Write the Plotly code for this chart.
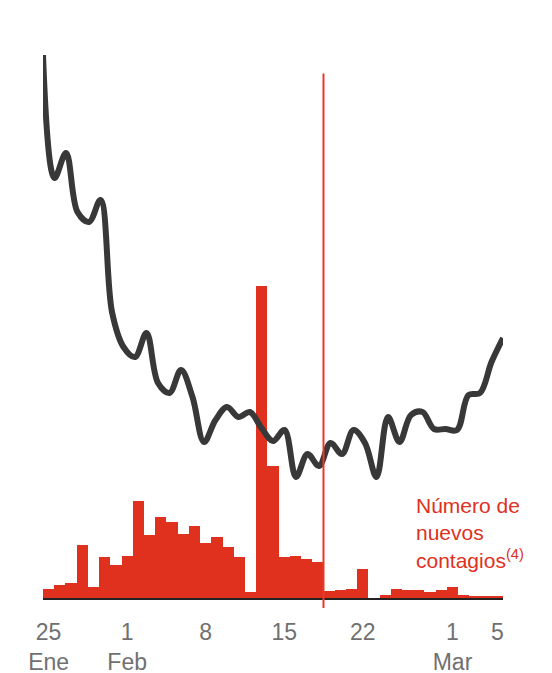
import plotly.graph_objects as go
import pandas as pd

# Daily new infections (bars), one per day from 25 Jan to 5 Mar 2020
dates = pd.date_range("2020-01-25", "2020-03-05", freq="D")
new_cases = [432, 624, 720, 2544, 528, 1968, 1584, 2016, 4656, 3024, 3888, 3648,
             3072, 3456, 2640, 2928, 2448, 1968, 288, 14976, 6336, 1968, 2016,
             1872, 1728, 336, 384, 432, 1392, 0, 144, 432, 384, 384, 288, 384,
             528, 144, 96, 96, 96]

# Black smoothed index line (arbitrary units), one point per day
line_index = list(range(41))
line_values = [543, 420, 445, 386, 376, 398, 286, 251, 241, 265, 215, 205, 228,
               201, 156, 178, 191, 181, 186, 170, 157, 168, 121, 144, 132, 155,
               144, 168, 155, 121, 181, 156, 183, 186, 169, 169, 168, 203, 205,
               236, 260]

tick_dates = ["2020-01-25", "2020-02-01", "2020-02-08", "2020-02-15",
              "2020-02-22", "2020-03-01", "2020-03-05"]
tick_labels = ["25<br>Ene", "1<br>Feb", "8", "15", "22", "1<br>Mar", "5"]

marker_date = "2020-02-18 12:00"
label_text = "Número de<br>nuevos<br>contagios<sup>(4)</sup>"

RED = "#E0301E"
FONT = "Liberation Sans, Arial, sans-serif"

fig = go.Figure()
fig.add_trace(go.Bar(x=dates, y=new_cases, marker=dict(color=RED, line=dict(width=0)),
                     xaxis="x", yaxis="y", hoverinfo="skip"))
fig.add_trace(go.Scatter(x=line_index, y=line_values, mode="lines",
                         line=dict(color="#383838", width=6, shape="spline", smoothing=1.0),
                         xaxis="x2", yaxis="y2", hoverinfo="skip"))

fig.add_shape(type="line", xref="x", yref="paper", x0=marker_date, x1=marker_date,
              y0=-0.018, y1=0.94, line=dict(color="#E8392A", width=2), layer="above")

fig.add_annotation(text=label_text, xref="paper", yref="paper", x=0.8065, y=0.19,
                   xanchor="left", yanchor="top", align="left", showarrow=False,
                   font=dict(family=FONT, size=21, color=RED))

fig.update_layout(
    width=552, height=673,
    margin=dict(l=35, r=57, t=32, b=83, autoexpand=False),
    paper_bgcolor="white", plot_bgcolor="white",
    showlegend=False, bargap=0,
    font=dict(family=FONT),
    xaxis=dict(range=["2020-01-24 12:00", "2020-03-05 12:00"],
               tickvals=tick_dates, ticktext=tick_labels,
               tickfont=dict(family=FONT, size=23, color="#707070"),
               ticks="", showgrid=False, zeroline=False, automargin=False,
               showline=True, linecolor="#222222", linewidth=2,
               ticklabelstandoff=12),
    yaxis=dict(range=[0, 26784], visible=False, showgrid=False, zeroline=False,
               automargin=False),
    xaxis2=dict(range=[0, 40], overlaying="x", visible=False),
    yaxis2=dict(range=[0, 558], overlaying="y", visible=False),
)

fig.write_html("out.html")
